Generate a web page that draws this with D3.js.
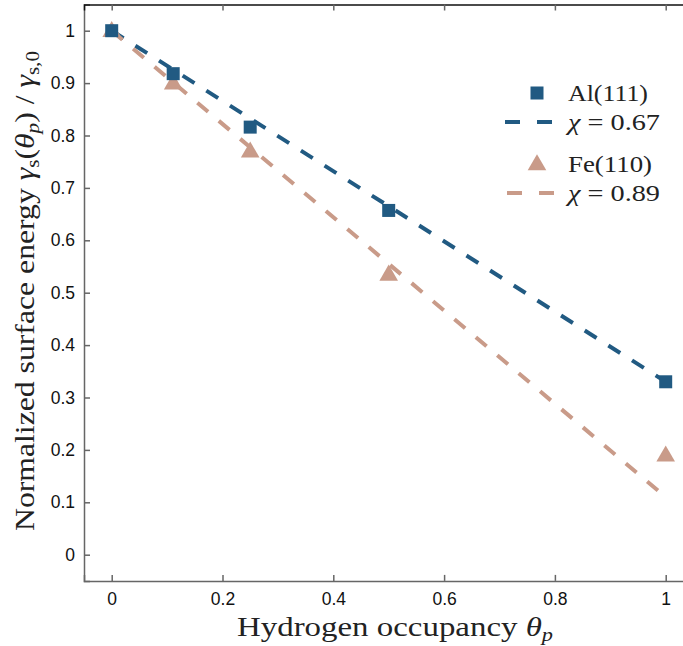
<!DOCTYPE html>
<html><head><meta charset="utf-8">
<script src="https://cdn.jsdelivr.net/npm/d3@7"></script>
<style>body{margin:0;background:#fff}svg{display:block}</style>
</head><body>
<script>
const occupancy = [0, 0.111, 0.25, 0.5, 1];
const alValues = [1.0, 0.918, 0.816, 0.657, 0.33];
const feValues = [1.0, 0.90, 0.77, 0.535, 0.19];
const fitX = [0, 1];
const alFit = [1.0, 0.33];
const feFit = [1.0, 0.11];
const xTicks = [0, 0.2, 0.4, 0.6, 0.8, 1];
const yTicks = [0, 0.1, 0.2, 0.3, 0.4, 0.5, 0.6, 0.7, 0.8, 0.9, 1];
const legendLabels = ["Al(111)", "χ = 0.67", "Fe(110)", "χ = 0.89"];

const W = 683, H = 646;
const blue = "#215a82", tan = "#c99b89";
const svg = d3.select("body").append("svg").attr("width", W).attr("height", H);
const x = d3.scaleLinear().domain([-0.05, 1.05]).range([84, 693.4]);
const y = d3.scaleLinear().domain([-0.05, 1.05]).range([580.9, 4.5]);

const serif = "'Liberation Serif', 'Times New Roman', serif";
const sans = "'Liberation Sans', Arial, sans-serif";

// axes
const axB = svg.append("g").attr("transform", `translate(0,${y(-0.05)})`)
  .call(d3.axisBottom(x).tickValues(xTicks).tickSize(-6).tickPadding(12).tickFormat(d3.format("~g")));
const axL = svg.append("g").attr("transform", `translate(${x(-0.05)},0)`)
  .call(d3.axisLeft(y).tickValues(yTicks).tickSize(-6).tickPadding(9).tickFormat(d3.format("~g")));
const axT = svg.append("g").attr("transform", `translate(0,${y(1.05)})`)
  .call(d3.axisTop(x).tickValues(xTicks).tickSize(-6).tickFormat(""));
[axB, axL].forEach(g => {
  g.select(".domain").attr("stroke", "#666").attr("stroke-width", 1.5);
  g.selectAll(".tick line").attr("stroke", "#666").attr("stroke-width", 1.5);
  g.selectAll("text").attr("font-family", sans).attr("font-size", 17.5).attr("fill", "#111");
});
axT.select(".domain").attr("stroke", "#111").attr("stroke-width", 1.5);
axT.selectAll(".tick line").attr("stroke", "#666").attr("stroke-width", 1.5);

// fit lines
const line = d3.line().x(d => x(d[0])).y(d => y(d[1]));
const fits = [[alFit, blue], [feFit, tan]];
fits.forEach(([vals, c]) => {
  svg.append("path").datum(fitX.map((v, i) => [v, vals[i]]))
    .attr("d", line).attr("fill", "none").attr("stroke", c)
    .attr("stroke-width", 4).attr("stroke-dasharray", "14,14");
});

// markers
const tri = d3.symbol().type(d3.symbolTriangle).size(150);
svg.append("g").selectAll("path").data(occupancy.map((v, i) => [v, feValues[i]])).join("path")
  .attr("d", tri).attr("transform", d => `translate(${x(d[0])},${y(d[1]) + 1})`)
  .attr("fill", tan);
svg.append("g").selectAll("rect").data(occupancy.map((v, i) => [v, alValues[i]])).join("rect")
  .attr("x", d => x(d[0]) - 6.5).attr("y", d => y(d[1]) - 6.5)
  .attr("width", 13).attr("height", 13).attr("fill", blue);

// legend
const lg = svg.append("g");
lg.append("rect").attr("x", 530.5).attr("y", 86.5).attr("width", 13).attr("height", 13).attr("fill", blue);
lg.append("line").attr("x1", 505).attr("x2", 553).attr("y1", 122).attr("y2", 122)
  .attr("stroke", blue).attr("stroke-width", 4).attr("stroke-dasharray", "15,17");
lg.append("path").attr("d", tri).attr("transform", "translate(537,165)").attr("fill", tan);
lg.append("line").attr("x1", 507).attr("x2", 555).attr("y1", 193).attr("y2", 193)
  .attr("stroke", tan).attr("stroke-width", 4).attr("stroke-dasharray", "15,17");
const ly = [101, 130, 172, 201];
const lw = [80, 92, 84, 92];
legendLabels.forEach((t, i) => {
  const tx = lg.append("text").attr("x", 568).attr("y", ly[i]).attr("font-family", serif)
    .attr("font-size", 23).attr("fill", "#222")
    .attr("textLength", lw[i]).attr("lengthAdjust", "spacingAndGlyphs");
  if (t.startsWith("χ")) {
    tx.append("tspan").attr("font-style", "italic").text("χ");
    tx.append("tspan").text(t.slice(1));
  } else tx.text(t);
});

// x label
const xl = svg.append("text").attr("x", 237).attr("y", 636)
  .attr("font-family", serif).attr("font-size", 28).attr("fill", "#222")
  .attr("textLength", 316).attr("lengthAdjust", "spacingAndGlyphs");
xl.append("tspan").text("Hydrogen occupancy ");
xl.append("tspan").attr("font-style", "italic").text("θ");
xl.append("tspan").attr("font-style", "italic").attr("font-size", 19).attr("dy", 5).text("p");

// y label
const yl = svg.append("text").attr("transform", "translate(34,531) rotate(-90)")
  .attr("font-family", serif).attr("font-size", 27).attr("fill", "#222")
  .attr("textLength", 480).attr("lengthAdjust", "spacingAndGlyphs");
yl.append("tspan").text("Normalized surface energy ");
yl.append("tspan").attr("font-style", "italic").text("γ");
yl.append("tspan").attr("font-size", 18).attr("dy", 5).text("s");
yl.append("tspan").attr("dy", -5).text("(");
yl.append("tspan").attr("font-style", "italic").text("θ");
yl.append("tspan").attr("font-style", "italic").attr("font-size", 18).attr("dy", 5).text("p");
yl.append("tspan").attr("dy", -5).text(") / ");
yl.append("tspan").attr("font-style", "italic").text("γ");
yl.append("tspan").attr("font-size", 18).attr("dy", 5).text("s,0");
</script>
</body></html>
